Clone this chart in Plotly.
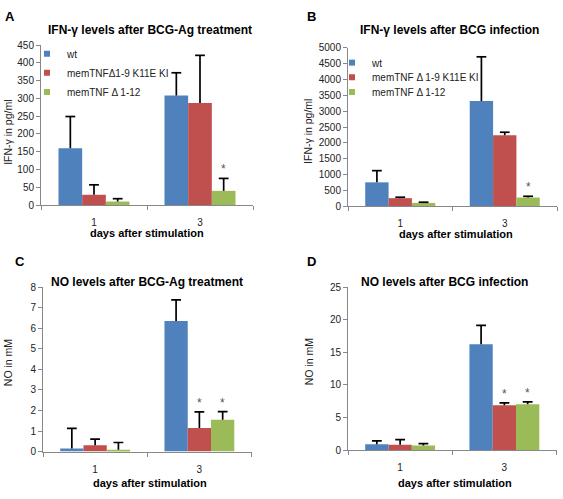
import plotly.graph_objects as go

W, H = 563, 499

# ---------------- data ----------------
days = ["1", "3"]
names_A = ["wt", "memTNFΔ1-9 K11E KI", "memTNF Δ 1-12"]
names_B = ["wt", "memTNF Δ 1-9 K11E KI", "memTNF Δ 1-12"]
colors = ["#4F81BD", "#C0504D", "#9BBB59"]

# Panel A: IFN-γ (pg/ml) after BCG-Ag treatment
a_wt = [160, 308]
a_wt_err = [89, 64]
a_ki = [29, 287]
a_ki_err = [28, 134]
a_d12 = [10, 40]
a_d12_err = [8, 35]

# Panel B: IFN-γ (pg/ml) after BCG infection
b_wt = [750, 3320]
b_wt_err = [370, 1400]
b_ki = [250, 2240]
b_ki_err = [30, 95]
b_d12 = [100, 270]
b_d12_err = [22, 40]

# Panel C: NO (mM) after BCG-Ag treatment
c_wt = [0.15, 6.36]
c_wt_err = [0.98, 1.03]
c_ki = [0.31, 1.15]
c_ki_err = [0.29, 0.78]
c_d12 = [0.09, 1.55]
c_d12_err = [0.35, 0.39]

# Panel D: NO (mM) after BCG infection
d_wt = [0.9, 16.25]
d_wt_err = [0.5, 2.9]
d_ki = [0.8, 6.9]
d_ki_err = [0.8, 0.35]
d_d12 = [0.7, 7.05]
d_d12_err = [0.3, 0.35]

# significance marks: (series index, day index)
sig_A = [(2, 1)]
sig_B = [(2, 1)]
sig_C = [(1, 1), (2, 1)]
sig_D = [(1, 1), (2, 1)]

FONT = "Liberation Sans, Arial, sans-serif"
BARGAP = 0.33
SLOT = (1 - BARGAP) / 3

panels = [
    dict(letter="A", title="IFN-γ levels after BCG-Ag treatment", ytitle="IFN-γ in pg/ml",
         series=[(a_wt, a_wt_err), (a_ki, a_ki_err), (a_d12, a_d12_err)], sig=sig_A,
         yrange=[0, 450], dtick=50, box=(41, 253, 40, 204),
         letter_pos=(3, 11), title_pos=(150, 25), ytitle_pos=(8, 130), xtitle_pos=(147, 233)),
    dict(letter="B", title="IFN-γ levels after BCG infection", ytitle="IFN-γ in pg/ml",
         series=[(b_wt, b_wt_err), (b_ki, b_ki_err), (b_d12, b_d12_err)], sig=sig_B,
         yrange=[0, 5000], dtick=500, box=(348, 557, 43, 205),
         letter_pos=(305, 11), title_pos=(449, 25), ytitle_pos=(308, 128), xtitle_pos=(456, 234)),
    dict(letter="C", title="NO levels after BCG-Ag treatment", ytitle="NO in mM",
         series=[(c_wt, c_wt_err), (c_ki, c_ki_err), (c_d12, c_d12_err)], sig=sig_C,
         yrange=[0, 8], dtick=1, box=(43, 251.5, 288.3, 456.5),
         letter_pos=(13, 262), title_pos=(147, 283), ytitle_pos=(8, 366), xtitle_pos=(150, 489)),
    dict(letter="D", title="NO levels after BCG infection", ytitle="NO in mM",
         series=[(d_wt, d_wt_err), (d_ki, d_ki_err), (d_d12, d_d12_err)], sig=sig_D,
         yrange=[0, 25], dtick=5, box=(348, 556.5, 288.3, 455),
         letter_pos=(305, 262), title_pos=(444, 283), ytitle_pos=(309, 365), xtitle_pos=(455, 489)),
]


def px(x):
    return x / W


def py(y):
    return 1 - y / H


fig = go.Figure()
annotations = []
layout = {}
xpos = list(range(len(days)))

for p_i, p in enumerate(panels):
    sfx = "" if p_i == 0 else str(p_i + 1)
    xa, ya = "x" + sfx, "y" + sfx
    for k, (vals, errs) in enumerate(p["series"]):
        fig.add_trace(go.Bar(
            x=xpos, y=vals, marker=dict(color=colors[k], line=dict(width=0)),
            error_y=dict(type="data", symmetric=False, array=errs, arrayminus=[0] * len(errs),
                         width=0, thickness=1.7, color="black"),
            xaxis=xa, yaxis=ya, showlegend=False, name=names_A[k]))
        fig.add_trace(go.Scatter(
            x=[i + (k - 1) * SLOT for i in xpos],
            y=[v + e for v, e in zip(vals, errs)],
            mode="markers",
            marker=dict(symbol="line-ew", size=7, line=dict(width=1.7, color="black")),
            xaxis=xa, yaxis=ya, showlegend=False, hoverinfo="skip"))
    for (k, d) in p["sig"]:
        vals, errs = p["series"][k]
        annotations.append(dict(
            xref=xa, yref=ya, x=d + (k - 1) * SLOT, y=vals[d] + errs[d],
            text="*", showarrow=False, yanchor="bottom", yshift=0,
            font=dict(family=FONT, size=12, color="#555")))

    x0, x1, y0, y1 = p["box"]
    layout["xaxis" + sfx] = dict(
        domain=[px(x0), px(x1)], anchor=ya, range=[-0.5, 1.5],
        tickmode="array", tickvals=xpos, ticktext=days, ticks="",
        showline=True, linecolor="#888", linewidth=1, showgrid=False, zeroline=False,
        tickfont=dict(family=FONT, size=10, color="#222"), ticklabelstandoff=8,
        minor=dict(tickmode="array", tickvals=[-0.5, 0.5, 1.5], ticks="outside",
                   ticklen=4, tickcolor="#888", tickwidth=1, showgrid=False),
        fixedrange=True)
    layout["yaxis" + sfx] = dict(
        domain=[py(y1), py(y0)], anchor=xa, range=p["yrange"], dtick=p["dtick"],
        ticks="outside", ticklen=4, tickcolor="#888", showline=True, linecolor="#888",
        linewidth=1, showgrid=False, zeroline=False,
        tickfont=dict(family=FONT, size=10, color="#222"), fixedrange=True)

    lx, ly = p["letter_pos"]
    annotations.append(dict(xref="paper", yref="paper", x=px(lx), y=py(ly), xanchor="left",
                            yanchor="middle", text="<b>%s</b>" % p["letter"], showarrow=False,
                            font=dict(family=FONT, size=13, color="black")))
    tx, ty = p["title_pos"]
    annotations.append(dict(xref="paper", yref="paper", x=px(tx), y=py(ty), xanchor="center",
                            yanchor="middle", text="<b>%s</b>" % p["title"], showarrow=False,
                            font=dict(family=FONT, size=12, color="black")))
    yx, yy = p["ytitle_pos"]
    annotations.append(dict(xref="paper", yref="paper", x=px(yx), y=py(yy), xanchor="center",
                            yanchor="middle", text=p["ytitle"], textangle=-90, showarrow=False,
                            font=dict(family=FONT, size=10.5, color="#222")))
    xx, xy = p["xtitle_pos"]
    annotations.append(dict(xref="paper", yref="paper", x=px(xx), y=py(xy), xanchor="center",
                            yanchor="middle", text="<b>days after stimulation</b>", showarrow=False,
                            font=dict(family=FONT, size=11, color="black")))

# legends (panels A and B), one legend per entry for exact placement
legend_specs = [
    ("legend", names_A[0], 0, "x", "y", 27, 49),
    ("legend2", names_A[1], 1, "x", "y", 27, 68.5),
    ("legend3", names_A[2], 2, "x", "y", 27, 88),
    ("legend4", names_B[0], 0, "x2", "y2", 332, 58),
    ("legend5", names_B[1], 1, "x2", "y2", 332, 73),
    ("legend6", names_B[2], 2, "x2", "y2", 332, 88),
]
for key, name, k, xa, ya, lx, ly in legend_specs:
    fig.add_trace(go.Scatter(x=[None], y=[None], mode="markers", name=name,
                             marker=dict(symbol="square", size=6, color=colors[k]),
                             xaxis=xa, yaxis=ya, legend=key, showlegend=True))
    layout[key] = dict(x=px(lx), y=py(ly), xanchor="left", yanchor="middle",
                       bgcolor="rgba(0,0,0,0)", borderwidth=0,
                       font=dict(family=FONT, size=10, color="#222"))

fig.update_layout(
    width=W, height=H, margin=dict(l=0, r=0, t=0, b=0),
    paper_bgcolor="white", plot_bgcolor="white",
    barmode="group", bargap=BARGAP, bargroupgap=0,
    annotations=annotations, font=dict(family=FONT),
    **layout)

fig.write_html("out.html", config={"displayModeBar": False},
               post_script="document.body.style.margin='0px';document.body.style.overflow='hidden';")
